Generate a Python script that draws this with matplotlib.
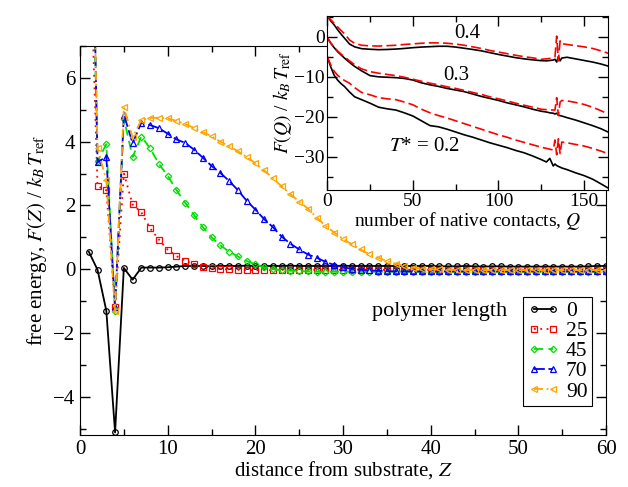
import numpy as np
import matplotlib.pyplot as plt
from matplotlib.ticker import MultipleLocator

plt.rcParams['font.family'] = ['Liberation Serif', 'DejaVu Serif']
plt.rcParams['mathtext.fontset'] = 'stix'

# main panel: free energy vs distance Z, one series per polymer length
Z = np.arange(1, 61)
labels = ['0', '25', '45', '70', '90']

f_0 = [0.55, -0.02, -1.3, -5.12, 0.04, -0.33, 0.05, 0.05, 0.05, 0.06,
       0.08, 0.1, 0.1, 0.1, 0.09, 0.1, 0.1, 0.1, 0.11, 0.1,
       0.1, 0.1, 0.1, 0.11, 0.1, 0.1, 0.1, 0.1, 0.1, 0.11,
       0.1, 0.1, 0.1, 0.1, 0.1, 0.1, 0.1, 0.1, 0.1, 0.1,
       0.09, 0.09, 0.09, 0.1, 0.09, 0.08, 0.09, 0.09, 0.08, 0.08,
       0.08, 0.08, 0.08, 0.08, 0.08, 0.08, 0.08, 0.09, 0.1, 0.1]
f_25 = [11.5, 2.6, 2.48, -1.2, 3.0, 2.03, 1.78, 1.28, 0.93, 0.61,
        0.41, 0.26, 0.17, 0.08, 0.04, 0.01, -0.01, -0.02, -0.03, -0.03,
        -0.03, -0.03, -0.02, -0.02, -0.02, -0.02, -0.02, -0.02, -0.02, -0.02,
        -0.02, -0.02, -0.02, -0.02, -0.02, -0.02, -0.02, -0.02, -0.02, -0.02,
        -0.02, -0.02, -0.02, -0.02, -0.02, -0.02, -0.02, -0.02, -0.02, -0.02,
        -0.02, -0.02, -0.02, -0.02, -0.02, -0.02, -0.02, -0.02, -0.02, -0.02]
f_45 = [16.0, 3.38, 3.92, -1.3, 4.72, 3.52, 4.16, 3.79, 3.3, 2.93,
        2.48, 2.08, 1.7, 1.32, 1.0, 0.75, 0.55, 0.4, 0.26, 0.15,
        0.06, 0.0, -0.03, -0.05, -0.06, -0.07, -0.08, -0.08, -0.08, -0.08,
        -0.08, -0.08, -0.08, -0.08, -0.08, -0.08, -0.08, -0.08, -0.08, -0.08,
        -0.08, -0.08, -0.08, -0.08, -0.08, -0.08, -0.08, -0.08, -0.08, -0.08,
        -0.08, -0.08, -0.08, -0.08, -0.08, -0.08, -0.08, -0.08, -0.08, -0.08]
f_70 = [17.5, 3.35, 3.53, -1.2, 4.85, 3.95, 4.6, 4.52, 4.42, 4.25,
        4.07, 3.96, 3.75, 3.5, 3.24, 3.02, 2.77, 2.48, 2.15, 1.87,
        1.57, 1.32, 1.02, 0.8, 0.62, 0.46, 0.36, 0.23, 0.13, 0.06,
        0.01, -0.02, -0.04, -0.05, -0.06, -0.07, -0.07, -0.07, -0.07, -0.07,
        -0.07, -0.07, -0.07, -0.07, -0.07, -0.07, -0.07, -0.07, -0.07, -0.07,
        -0.07, -0.07, -0.07, -0.07, -0.07, -0.07, -0.07, -0.07, -0.07, -0.07]
f_90 = [16.5, 3.79, 2.79, -1.32, 5.08, 4.13, 4.68, 4.74, 4.75, 4.73,
        4.65, 4.55, 4.43, 4.3, 4.17, 4.0, 3.86, 3.7, 3.52, 3.32,
        3.1, 2.85, 2.6, 2.35, 2.12, 1.9, 1.62, 1.36, 1.15, 0.95,
        0.78, 0.62, 0.47, 0.36, 0.26, 0.17, 0.1, 0.05, 0.02, 0.0,
        -0.01, -0.02, -0.03, -0.03, -0.03, -0.03, -0.03, -0.03, -0.03, -0.03,
        -0.03, -0.03, -0.03, -0.03, -0.03, -0.03, -0.03, -0.03, -0.03, -0.03]

# inset: F(Q) at three temperatures, two estimates each
Q = [0, 2, 4, 6, 8, 10, 13, 16, 20, 25, 30, 35, 40, 45, 50, 55, 60, 65, 70, 75,
     80, 85, 90, 95, 100, 105, 110, 115, 120, 125, 128, 130, 132, 133, 134, 135,
     136, 137, 140, 145, 150, 155, 160, 164]
fq_04_black = [5.2, 4.0, 3.0, 1.8, 0.7, -0.3, -1.8, -2.5, -2.95, -3.1, -3.2, -3.15,
               -3.05, -2.9, -2.7, -2.55, -2.45, -2.35, -2.35, -2.55, -2.85, -3.15,
               -3.5, -3.95, -4.4, -4.8, -5.2, -5.5, -5.75, -5.95, -6.0, -5.9, -5.8,
               -5.6, -6.3, -4.9, -6.0, -5.3, -5.1, -5.5, -5.9, -6.3, -6.8, -7.3]
fq_04_red = [5.2, 4.3, 3.4, 2.5, 1.6, 0.8, -0.8, -1.6, -2.1, -2.25, -2.3, -2.2,
             -2.1, -1.9, -1.75, -1.6, -1.5, -1.5, -1.6, -1.8, -2.1, -2.5,
             -2.9, -3.4, -3.8, -4.2, -4.6, -4.95, -5.25, -5.6, -5.5, -5.4, -5.3,
             -5.0, 0.2, -6.0, -1.0, -1.7, -1.9, -2.2, -2.5, -2.9, -3.5, -4.1]
fq_03_black = [-0.2, -1.6, -2.7, -3.7, -4.5, -5.3, -6.4, -7.4, -8.5, -9.7, -10.0, -10.1,
               -10.2, -10.4, -10.8, -11.5, -12.0, -12.4, -12.9, -13.3, -13.7, -14.3,
               -14.9, -15.4, -15.9, -16.5, -17.0, -17.5, -18.1, -18.6, -18.8, -19.0, -19.1,
               -19.3, -19.1, -19.6, -19.7, -19.8, -20.2, -20.8, -21.5, -22.2, -23.0, -23.8]
fq_03_red = [-0.2, -1.5, -2.6, -3.5, -4.3, -5.0, -6.0, -7.0, -8.0, -8.7, -9.1, -9.4,
             -9.7, -10.1, -10.6, -11.1, -11.6, -12.0, -12.5, -12.9, -13.4, -13.9,
             -14.4, -15.0, -15.5, -16.0, -16.6, -17.1, -17.6, -18.1, -18.2, -18.3, -18.3,
             -18.3, -15.2, -19.7, -16.3, -15.9, -16.0, -16.4, -16.9, -17.6, -18.5, -19.3]
fq_02_black = [-5.0, -7.5, -9.6, -10.8, -11.7, -12.4, -13.8, -15.0, -15.7, -16.6, -17.6, -18.0,
               -18.3, -19.0, -19.8, -21.0, -22.2, -22.5, -23.1, -23.8, -24.5, -25.1,
               -25.8, -26.5, -27.1, -27.7, -28.4, -29.0, -29.8, -30.7, -31.3, -30.4, -32.3,
               -31.8, -32.2, -32.4, -32.6, -32.8, -33.2, -34.0, -34.7, -35.6, -36.8, -37.8]
fq_02_red = [-5.0, -7.0, -8.6, -9.6, -10.3, -10.9, -11.6, -12.7, -13.9, -14.5, -15.2, -15.5,
             -15.7, -16.3, -17.0, -18.1, -19.0, -19.7, -20.3, -21.0, -21.7, -22.4,
             -23.1, -23.8, -24.5, -25.1, -25.8, -26.4, -27.0, -27.6, -27.9, -28.1, -28.3,
             -25.8, -29.5, -25.5, -29.2, -26.3, -26.5, -26.9, -27.3, -27.9, -28.6, -29.2]

fig = plt.figure(figsize=(6.28, 4.87), dpi=100)
ax = fig.add_axes([0.1274, 0.1068, 0.8376, 0.7988])

styles = [
    dict(color='black', marker='o', linestyle='-'),
    dict(color='red', marker='s', linestyle=(0, (1, 2.5))),
    dict(color='#00e000', marker='D', linestyle=(0, (5, 3))),
    dict(color='blue', marker='^', linestyle=(0, (6, 2))),
    dict(color='orange', marker='<', linestyle=(0, (5, 2, 1, 2))),
]
for f, lab, st in zip([f_0, f_25, f_45, f_70, f_90], labels, styles):
    ms = 3.3 if st['marker'] == 'D' else 4
    ax.plot(Z, f, label=lab, lw=1.3, markersize=ms, markerfacecolor='none',
            markeredgewidth=0.9, **st)

ax.set_xlim(0, 60)
ax.set_ylim(-5.2, 7)
ax.xaxis.set_major_locator(MultipleLocator(10))
ax.xaxis.set_minor_locator(MultipleLocator(5))
ax.yaxis.set_major_locator(MultipleLocator(2))
ax.yaxis.set_minor_locator(MultipleLocator(1))
ax.tick_params(which='both', direction='in', top=True, right=True, labelsize=15, width=1)
ax.tick_params(which='major', length=7)
ax.tick_params(which='minor', length=4)
ax.set_xlabel('distance from substrate, $Z$', fontsize=15, labelpad=0)
ax.set_ylabel(r'free energy, $F(Z)$ / $k_B\,T_{\rm ref}$', fontsize=15, labelpad=3)

leg = ax.legend(loc='upper left', bbox_to_anchor=(0.842, 0.355), borderaxespad=0,
                fontsize=15.5, numpoints=2, handlelength=1.5, handletextpad=0.3,
                labelspacing=0.0, borderpad=0.2, fancybox=False, framealpha=1)
leg.get_frame().set_edgecolor('black')
leg.get_frame().set_linewidth(0.8)
ax.text(0.684, 0.317, 'polymer length', transform=ax.transAxes, fontsize=16,
        ha='center', va='center')

# inset
ins = fig.add_axes([0.5212, 0.6099, 0.447, 0.3579])
ins.plot(Q, fq_04_black, color='black', lw=1.2)
ins.plot(Q, fq_04_red, color='red', lw=1.2, linestyle=(0, (6, 2.5)))
ins.plot(Q, fq_03_black, color='black', lw=1.2)
ins.plot(Q, fq_03_red, color='red', lw=1.2, linestyle=(0, (6, 2.5)))
ins.plot(Q, fq_02_black, color='black', lw=1.2)
ins.plot(Q, fq_02_red, color='red', lw=1.2, linestyle=(0, (6, 2.5)))
ins.set_xlim(0, 164)
ins.set_ylim(-38.3, 5.3)
ins.xaxis.set_major_locator(MultipleLocator(50))
ins.xaxis.set_minor_locator(MultipleLocator(25))
ins.yaxis.set_major_locator(MultipleLocator(10))
ins.yaxis.set_minor_locator(MultipleLocator(5))
ins.tick_params(which='both', direction='in', top=True, right=True, labelsize=14, width=1)
ins.tick_params(which='major', length=7, pad=2)
ins.tick_params(which='minor', length=4)
ins.set_xlabel('number of native contacts, $Q$', fontsize=14, labelpad=0)
ins.set_ylabel(r'$F(Q)$ / $k_B\,T_{\rm ref}$', fontsize=14, labelpad=0)
ins.text(81.5, 0.8, '0.4', fontsize=15, ha='center', va='center')
ins.text(75.5, -9.6, '0.3', fontsize=15, ha='center', va='center')
ins.text(57, -27.5, r'$T$* = 0.2', fontsize=15, ha='center', va='center')

fig.savefig('out.png', dpi=100)
